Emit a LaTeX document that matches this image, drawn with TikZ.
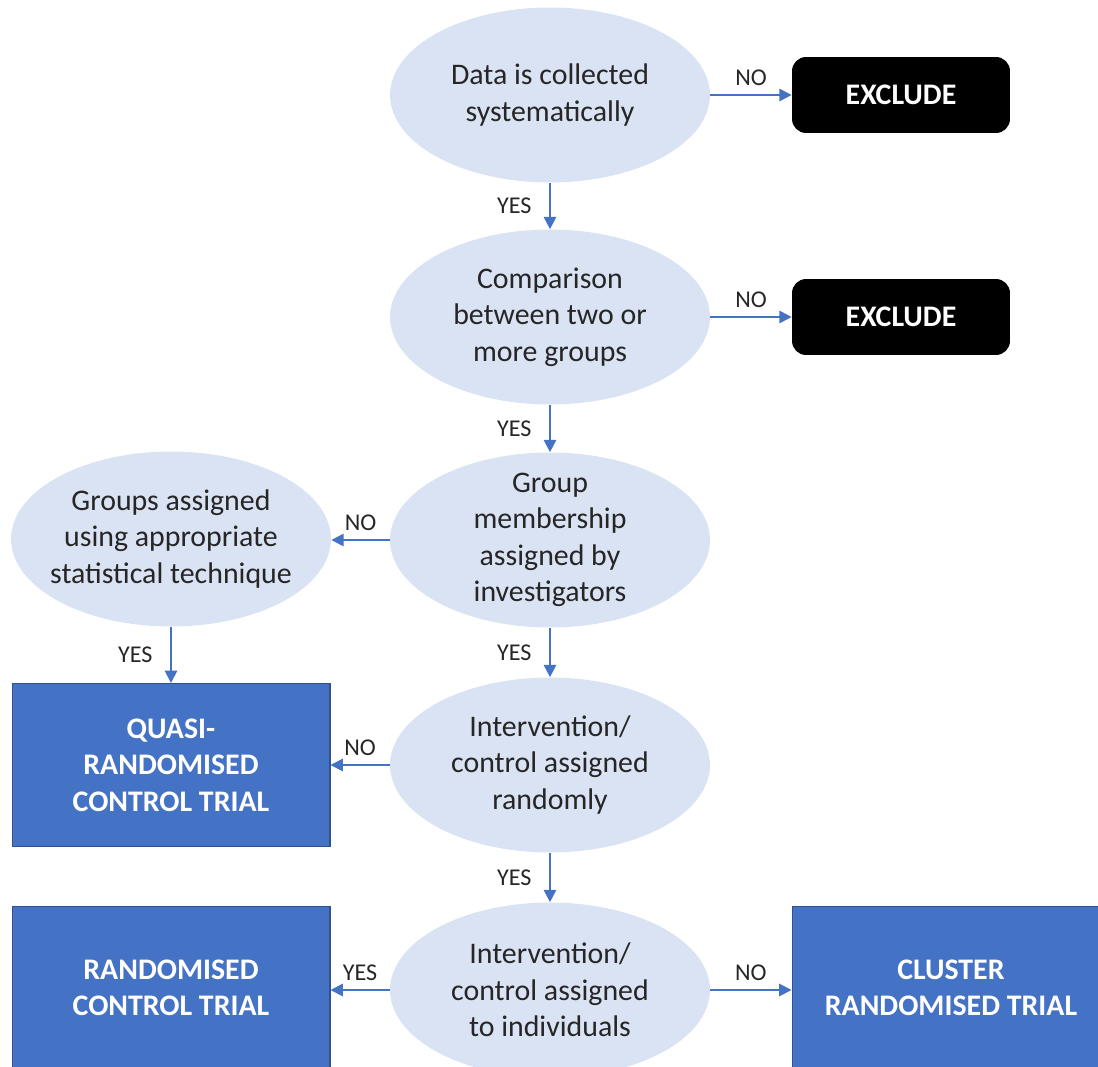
\documentclass[tikz,border=0pt]{standalone}
\usepackage{fontspec}
\setmainfont{Carlito}
\usepackage{xcolor}
\usetikzlibrary{arrows.meta,shapes.geometric}
\definecolor{askfill}{RGB}{218,227,243}
\definecolor{trialblue}{RGB}{68,114,196}
\definecolor{trialedge}{RGB}{47,82,143}
\definecolor{flowblue}{RGB}{68,114,196}
\definecolor{inktext}{RGB}{38,38,38}

\tikzset{
    question/.style={ellipse, fill=askfill, minimum width=6.4cm, minimum height=3.5cm,
        inner sep=-6pt, align=center, text=inktext, font=\fontsize{17}{20.8}\selectfont},
    exclbox/.style={rectangle, rounded corners=8pt, fill=black, minimum width=4.36cm,
        minimum height=1.52cm, text=white, font=\fontsize{17}{20.8}\selectfont\bfseries},
    trialbox/.style={rectangle, fill=trialblue, draw=trialedge, line width=0.6pt,
        minimum width=6.36cm, minimum height=3.26cm, align=center, text=white,
        font=\fontsize{17}{20.8}\selectfont\bfseries},
    flow/.style={flowblue, line width=1.1pt, -{Triangle[length=7pt, width=7pt]}},
    answer/.style={text=inktext, font=\fontsize{13.7}{16}\selectfont, inner sep=5pt},
    yesleft/.style={answer, left, inner xsep=10pt}
}

\begin{document}
\begin{tikzpicture}[x=0.02cm, y=-0.02cm]

% Page frame
\useasboundingbox (0,0) rectangle (1098,1067);
\clip (0,0) rectangle (1098,1067);

% Questions
\node[question] (collect) at (550,95) {Data is collected\\systematically};
\node[question] (compare) at (550,317) {Comparison\\between two or\\more groups};
\node[question] (member) at (550,540) {Group\\membership\\assigned by\\investigators};
\node[question] (random) at (550,765) {Intervention/\\control assigned\\randomly};
\node[question] (indiv) at (550,990) {Intervention/\\control assigned\\to individuals};
\node[question] (stat) at (171,539) {Groups assigned\\using appropriate\\statistical technique};

% Exclusions
\node[exclbox] (excla) at (901,95) {EXCLUDE};
\node[exclbox] (exclb) at (901,317) {EXCLUDE};

% Trial types
\node[trialbox] (quasi) at (171,765) {QUASI-\\RANDOMISED\\CONTROL TRIAL};
\node[trialbox] (rct) at (171,988) {RANDOMISED\\CONTROL TRIAL};
\node[trialbox] (cluster) at (951,988) {CLUSTER\\RANDOMISED TRIAL};

% Main spine
\draw[flow] (collect.south) -- node[yesleft] {YES} (compare.north);
\draw[flow] (compare.south) -- node[yesleft] {YES} (member.north);
\draw[flow] (member.south) -- node[yesleft] {YES} (random.north);
\draw[flow] (random.south) -- node[yesleft] {YES} (indiv.north);

% Side branches
\draw[flow] (collect.east) -- node[answer, above] {NO} (collect.east -| excla.west);
\draw[flow] (compare.east) -- node[answer, above] {NO} (exclb.west);
\draw[flow] (member.west) -- node[answer, above] {NO} (member.west -| stat.east);
\draw[flow] (stat.south) -- node[yesleft] {YES} (quasi.north);
\draw[flow] (random.west) -- node[answer, above] {NO} (quasi.east);
\draw[flow] (indiv.west) -- node[answer, above] {YES} (indiv.west -| rct.east);
\draw[flow] (indiv.east) -- node[answer, above] {NO} (indiv.east -| cluster.west);

\end{tikzpicture}
\end{document}
